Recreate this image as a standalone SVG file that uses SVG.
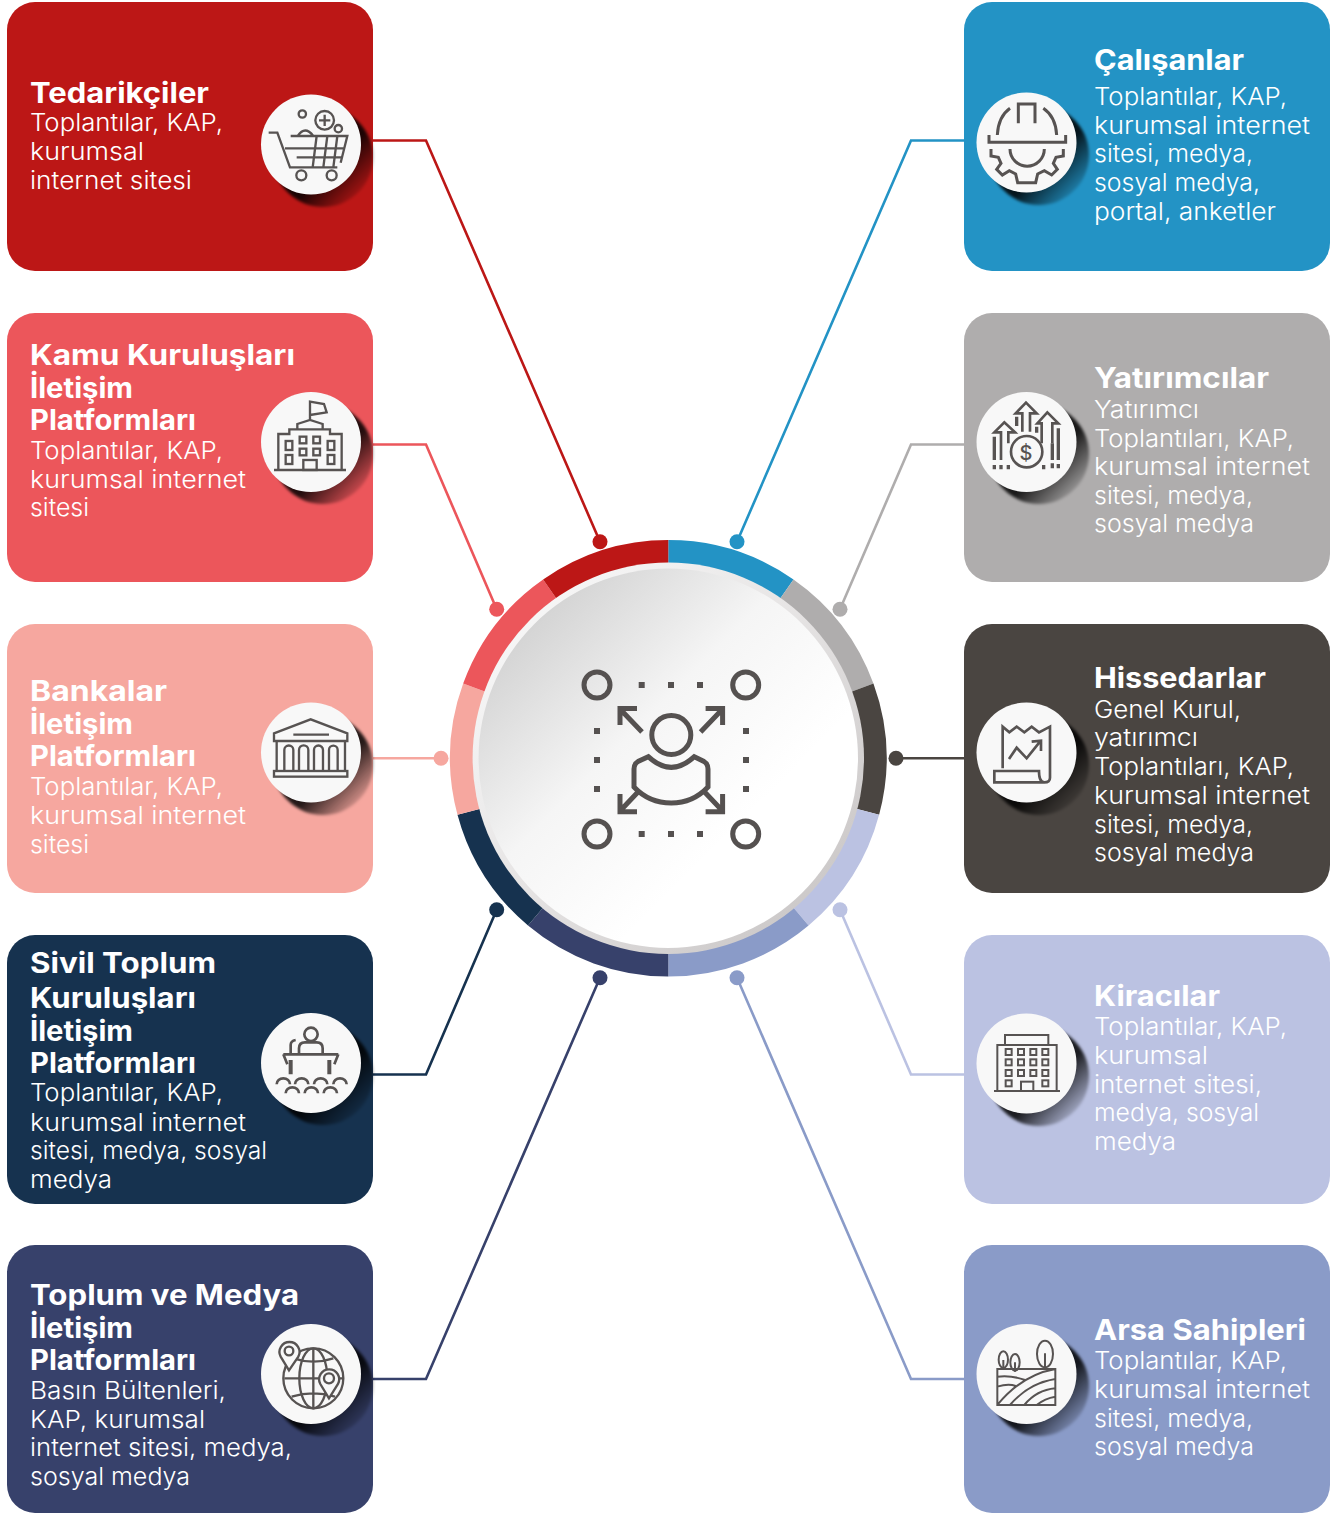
<svg xmlns="http://www.w3.org/2000/svg" width="1341" height="1513" viewBox="0 0 1341 1513">
<style>
text{font-family:"Inter","Noto Sans","Liberation Sans",sans-serif;fill:#fff}
.h{font-size:28px;font-weight:700}
.b{font-size:24px;font-weight:300}
.i{fill:none;stroke:#575352;stroke-width:7;stroke-linejoin:miter}
.i .w{fill:#f8f8f8}
.c{fill:none;stroke-width:2.6}
.r{fill:none;stroke-width:28.6}
.ci{fill:none;stroke:#555150;stroke-width:5}
.sq{fill:#555150}
.disc{fill:#f8f8f8}
.sh{fill:url(#shg);filter:url(#bl)}
</style>
<defs>
<linearGradient id="shg" x1="0.2" y1="0.2" x2="0.9" y2="0.9"><stop offset="0.55" stop-color="#000" stop-opacity="0.85"/><stop offset="1" stop-color="#000" stop-opacity="0.05"/></linearGradient>
<filter id="bl" x="-20%" y="-20%" width="140%" height="140%"><feGaussianBlur stdDeviation="1.5"/></filter>
<linearGradient id="rim" x1="0.1" y1="0.1" x2="0.85" y2="0.85"><stop offset="0" stop-color="#f8f8f8"/><stop offset="0.5" stop-color="#e6e4e4"/><stop offset="1" stop-color="#cdcaca"/></linearGradient>
<linearGradient id="face" x1="0.1" y1="0.1" x2="0.68" y2="0.68"><stop offset="0" stop-color="#cfcfcf"/><stop offset="0.55" stop-color="#f5f5f5"/><stop offset="1" stop-color="#fff"/></linearGradient>
</defs>

<g id="connectors">
<g class="c"><path stroke="#bc1716" d="M373 140.500H426L600 541.700"/><path stroke="#ec565b" d="M373 444.500H426L496.700 609.300"/><path stroke="#f6a79f" d="M373 758.300H441"/><path stroke="#16324f" d="M373 1074.500H426L496.700 909.700"/><path stroke="#37416b" d="M373 1379H426L600 977.700"/><path stroke="#2393c5" d="M964 140.500H911L737 541.700"/><path stroke="#afadad" d="M964 444.500H911L840 609.300"/><path stroke="#4a4541" d="M964 758.300H896"/><path stroke="#bbc2e2" d="M964 1074.500H911L840 909.700"/><path stroke="#8a9bc8" d="M964 1379H911L737 977.700"/></g>
<circle cx="600" cy="541.700" r="7.500" fill="#bc1716"/><circle cx="496.700" cy="609.300" r="7.500" fill="#ec565b"/><circle cx="441" cy="758.300" r="7.500" fill="#f6a79f"/><circle cx="496.700" cy="909.700" r="7.500" fill="#16324f"/><circle cx="600" cy="977.700" r="7.500" fill="#37416b"/><circle cx="737" cy="541.700" r="7.500" fill="#2393c5"/><circle cx="840" cy="609.300" r="7.500" fill="#afadad"/><circle cx="896" cy="758.300" r="7.500" fill="#4a4541"/><circle cx="840" cy="909.700" r="7.500" fill="#bbc2e2"/><circle cx="737" cy="977.700" r="7.500" fill="#8a9bc8"/>
</g>

<g id="hub">
<g class="r">
<path stroke="#2393c5" d="M668.300 554.300A204 204 0 0 1 785.300 591.200"/>
<path stroke="#afadad" d="M785.300 591.200A204 204 0 0 1 860 688.500"/>
<path stroke="#4a4541" d="M860 688.500A204 204 0 0 1 865.300 811.100"/>
<path stroke="#bbc2e2" d="M865.300 811.100A204 204 0 0 1 799.400 914.600"/>
<path stroke="#8a9bc8" d="M799.400 914.600A204 204 0 0 1 668.300 962.300"/>
<path stroke="#37416b" d="M668.300 962.300A204 204 0 0 1 537.200 914.600"/>
<path stroke="#16324f" d="M537.200 914.600A204 204 0 0 1 471.300 811.100"/>
<path stroke="#f6a79f" d="M471.300 811.100A204 204 0 0 1 476.600 688.500"/>
<path stroke="#ec565b" d="M476.600 688.500A204 204 0 0 1 551.300 591.200"/>
<path stroke="#bc1716" d="M551.300 591.200A204 204 0 0 1 668.300 554.300"/>
</g>
<circle cx="668.300" cy="758.300" r="195.700" fill="url(#rim)"/>
<circle cx="668.300" cy="758.300" r="189.700" fill="url(#face)"/>
<g class="ci">
<circle cx="597" cy="685" r="13"/><circle cx="745.700" cy="685" r="13"/><circle cx="597" cy="834" r="13"/><circle cx="745.700" cy="834" r="13"/>
<circle cx="671.300" cy="735" r="19.500"/>
<path d="M648.300 756.700Q671.300 778 694.300 756.700L704 761.500Q708 764 708 769V787Q693 803 671.300 803Q649 803 634 787V769Q634 764 638 761.500Z"/>
<path d="M642 732L620 709M637 708.500H620V725M700.600 732L722.600 709M705.600 708.500H722.600V725M638 792L620 811M620 794V811.700H637M704.600 792L722.600 811M722.600 794V811.700H705.600"/>
</g>
<g class="sq">
<rect x="638.700" y="682" width="6" height="6"/><rect x="668" y="682" width="6" height="6"/><rect x="697" y="682" width="6" height="6"/>
<rect x="638.700" y="831" width="6" height="6"/><rect x="668" y="831" width="6" height="6"/><rect x="697" y="831" width="6" height="6"/>
<rect x="594" y="728" width="6" height="6"/><rect x="594" y="757" width="6" height="6"/><rect x="594" y="786" width="6" height="6"/>
<rect x="743" y="728" width="6" height="6"/><rect x="743" y="757" width="6" height="6"/><rect x="743" y="786" width="6" height="6"/>
</g>
</g>

<g id="tedarikciler">
<rect x="7" y="2" width="366" height="269" rx="28" fill="#bc1716"/>
<circle class="sh" cx="323" cy="157" r="50"/><circle class="disc" cx="311" cy="144.500" r="50"/>
<g class="i" transform="translate(250,80) scale(.3333)">
<circle cx="157" cy="102" r="11"/><circle cx="224" cy="121" r="28"/><path d="M224 104V138M207 121H241"/><circle cx="265" cy="146" r="11"/><circle cx="154" cy="286" r="15"/><circle cx="245" cy="286" r="15"/>
<path d="M56 158H82L120 262H262M122 168H292L272 248M143 168Q165 135 190 168M105 205H285M140 232H277M200 168L188 262M232 168L220 262M262 168L250 262"/>
</g>
<text class="h" x="30" y="102.500" textLength="179" lengthAdjust="spacingAndGlyphs">Tedarikçiler</text>
<text class="b" x="30" y="131" textLength="193" lengthAdjust="spacingAndGlyphs">Toplantılar, KAP,</text>
<text class="b" x="30" y="160" textLength="114" lengthAdjust="spacingAndGlyphs">kurumsal</text>
<text class="b" x="30" y="189" textLength="162" lengthAdjust="spacingAndGlyphs">internet sitesi</text>
</g>

<g id="kamu">
<rect x="7" y="313" width="366" height="269" rx="28" fill="#ec565b"/>
<circle class="sh" cx="323" cy="454" r="50"/><circle class="disc" cx="311" cy="442" r="50"/>
<g class="i" transform="translate(250,380) scale(.3333)">
<path d="M180 120V65L222 72L230 97L180 105M142 148V132L180 120L218 132V148M85 270V162H118V148H240V162H275V270M72 270H288"/>
<rect x="107" y="183" width="20" height="27"/><rect x="107" y="225" width="20" height="27"/><rect x="233" y="183" width="20" height="27"/><rect x="233" y="225" width="20" height="27"/><rect x="149" y="170" width="20" height="20"/><rect x="190" y="170" width="20" height="20"/><rect x="149" y="206" width="20" height="20"/><rect x="190" y="206" width="20" height="20"/><rect x="160" y="240" width="40" height="30"/>
</g>
<text class="h" x="30" y="364.500" textLength="265" lengthAdjust="spacingAndGlyphs">Kamu Kuruluşları</text>
<text class="h" x="30" y="397.500" textLength="103" lengthAdjust="spacingAndGlyphs">İletişim</text>
<text class="h" x="30" y="429.500" textLength="166" lengthAdjust="spacingAndGlyphs">Platformları</text>
<text class="b" x="30" y="458.500" textLength="193" lengthAdjust="spacingAndGlyphs">Toplantılar, KAP,</text>
<text class="b" x="30" y="487.500" textLength="216" lengthAdjust="spacingAndGlyphs">kurumsal internet</text>
<text class="b" x="30" y="515.500" textLength="59" lengthAdjust="spacingAndGlyphs">sitesi</text>
</g>

<g id="bankalar">
<rect x="7" y="624" width="366" height="269" rx="28" fill="#f6a79f"/>
<circle class="sh" cx="323" cy="765" r="50"/><circle class="disc" cx="311" cy="752.500" r="50"/>
<g class="i" transform="translate(250,695) scale(.3333)">
<path d="M72 115L182 73L292 115V138H72ZM130 119H237M80 138V228M285 138V228M103 228V165A13.500 13.500 0 0 1 130 165V228M147 228V165A14 14 0 0 1 175 165V228M192 228V165A13.500 13.500 0 0 1 219 165V228M237 228V165A13 13 0 0 1 263 165V228"/>
<rect x="72" y="228" width="220" height="17"/>
</g>
<text class="h" x="30" y="700.500" textLength="137" lengthAdjust="spacingAndGlyphs">Bankalar</text>
<text class="h" x="30" y="733.500" textLength="103" lengthAdjust="spacingAndGlyphs">İletişim</text>
<text class="h" x="30" y="765.500" textLength="166" lengthAdjust="spacingAndGlyphs">Platformları</text>
<text class="b" x="30" y="794.500" textLength="193" lengthAdjust="spacingAndGlyphs">Toplantılar, KAP,</text>
<text class="b" x="30" y="823.500" textLength="216" lengthAdjust="spacingAndGlyphs">kurumsal internet</text>
<text class="b" x="30" y="852.500" textLength="59" lengthAdjust="spacingAndGlyphs">sitesi</text>
</g>

<g id="sivil-toplum">
<rect x="7" y="935" width="366" height="269" rx="28" fill="#16324f"/>
<circle class="sh" cx="323" cy="1075" r="50"/><circle class="disc" cx="311" cy="1063" r="50"/>
<g class="i" transform="translate(250,1005) scale(.3333)" style="stroke-width:8">
<circle cx="183" cy="88" r="20"/><path d="M147 145V130Q147 112 165 112H200Q218 112 218 130V145M100 148H265M100 148L112 178M265 148L253 178M122 145V120Q122 108 137 105"/>
<path stroke-width="12" d="M122 165V208M238 165V208" style="stroke-width:12"/>
<path d="M80 238A20 18 0 0 1 120 238M135 238A20 18 0 0 1 175 238M192 238A20 18 0 0 1 232 238M250 238A20 18 0 0 1 290 238M107 265A20 18 0 0 1 147 265M164 265A20 18 0 0 1 204 265M221 265A20 18 0 0 1 261 265"/>
</g>
<text class="h" x="30" y="972.500" textLength="186" lengthAdjust="spacingAndGlyphs">Sivil Toplum</text>
<text class="h" x="30" y="1007.500" textLength="166" lengthAdjust="spacingAndGlyphs">Kuruluşları</text>
<text class="h" x="30" y="1040.500" textLength="103" lengthAdjust="spacingAndGlyphs">İletişim</text>
<text class="h" x="30" y="1072.500" textLength="166" lengthAdjust="spacingAndGlyphs">Platformları</text>
<text class="b" x="30" y="1100.500" textLength="193" lengthAdjust="spacingAndGlyphs">Toplantılar, KAP,</text>
<text class="b" x="30" y="1130.500" textLength="216" lengthAdjust="spacingAndGlyphs">kurumsal internet</text>
<text class="b" x="30" y="1158.500" textLength="237" lengthAdjust="spacingAndGlyphs">sitesi, medya, sosyal</text>
<text class="b" x="30" y="1187.500" textLength="82" lengthAdjust="spacingAndGlyphs">medya</text>
</g>

<g id="toplum-medya">
<rect x="7" y="1245" width="366" height="268" rx="28" fill="#37416b"/>
<circle class="sh" cx="323" cy="1386" r="50"/><circle class="disc" cx="311" cy="1374" r="50"/>
<g class="i" transform="translate(250,1315) scale(.3333)">
<circle cx="190" cy="190" r="90"/><ellipse cx="190" cy="190" rx="42" ry="90"/><path d="M190 100V280M103 190H280M130 130Q190 150 250 130M125 245Q190 225 255 245"/>
<path class="w" d="M117 166L92 125A30 30 0 1 1 145 125Z"/><circle cx="117" cy="108" r="13"/>
<path class="w" d="M237 250L211 207A30 30 0 1 1 264 207Z"/><circle cx="237" cy="190" r="15"/>
</g>
<text class="h" x="30" y="1304.500" textLength="269" lengthAdjust="spacingAndGlyphs">Toplum ve Medya</text>
<text class="h" x="30" y="1337.500" textLength="103" lengthAdjust="spacingAndGlyphs">İletişim</text>
<text class="h" x="30" y="1369.500" textLength="166" lengthAdjust="spacingAndGlyphs">Platformları</text>
<text class="b" x="30" y="1398.500" textLength="196" lengthAdjust="spacingAndGlyphs">Basın Bültenleri,</text>
<text class="b" x="30" y="1427.500" textLength="175" lengthAdjust="spacingAndGlyphs">KAP, kurumsal</text>
<text class="b" x="30" y="1455.500" textLength="262" lengthAdjust="spacingAndGlyphs">internet sitesi, medya,</text>
<text class="b" x="30" y="1484.500" textLength="160" lengthAdjust="spacingAndGlyphs">sosyal medya</text>
</g>

<g id="calisanlar">
<rect x="964" y="2" width="366" height="269" rx="28" fill="#2393c5"/>
<circle class="sh" cx="1039" cy="155" r="50"/><circle class="disc" cx="1026.500" cy="142.500" r="50"/>
<g class="i" transform="translate(965,80) scale(.3333)" style="stroke-width:9">
<path d="M72 165V187H302V165M97 165Q100 110 135 85M160 130V72H210V130M275 165Q272 110 235 85"/>
<path d="M135 207A51 51 0 0 0 238 207M78 207V228L100 232L108 250L95 268L112 285L133 272L152 282L158 308H212L218 282L238 272L260 285L277 268L265 250L273 232L295 228V207"/>
</g>
<text class="h" x="1094" y="69.500" textLength="150" lengthAdjust="spacingAndGlyphs">Çalışanlar</text>
<text class="b" x="1094" y="104.500" textLength="193" lengthAdjust="spacingAndGlyphs">Toplantılar, KAP,</text>
<text class="b" x="1094" y="133.500" textLength="216" lengthAdjust="spacingAndGlyphs">kurumsal internet</text>
<text class="b" x="1094" y="162" textLength="159" lengthAdjust="spacingAndGlyphs">sitesi, medya,</text>
<text class="b" x="1094" y="191" textLength="166" lengthAdjust="spacingAndGlyphs">sosyal medya,</text>
<text class="b" x="1094" y="220" textLength="182" lengthAdjust="spacingAndGlyphs">portal, anketler</text>
</g>

<g id="yatirimcilar">
<rect x="964" y="313" width="366" height="269" rx="28" fill="#afadad"/>
<circle class="sh" cx="1039" cy="454" r="50"/><circle class="disc" cx="1026.500" cy="442" r="50"/>
<g class="i" transform="translate(965,380) scale(.3333)" style="stroke-width:8">
<circle cx="185" cy="215" r="47"/>
<path d="M172 155V100H152L183 68L215 100H195V155M108 240V157H88L118 127L150 157H130V190M230 190V130H217L247 97L280 130H262V190"/>
<path style="stroke-width:10" d="M88 170V240M88 255V268M108 255V268M130 255V268M155 110V138M215 140V158M280 145V240M280 252V265M262 190V240M262 250V265M236 255V268"/>
</g>
<text x="1026" y="460" text-anchor="middle" style="font-size:20px;font-weight:500;fill:#575352">$</text>
<text class="h" x="1094" y="387.500" textLength="175" lengthAdjust="spacingAndGlyphs">Yatırımcılar</text>
<text class="b" x="1094" y="417.500" textLength="105" lengthAdjust="spacingAndGlyphs">Yatırımcı</text>
<text class="b" x="1094" y="446.500" textLength="200" lengthAdjust="spacingAndGlyphs">Toplantıları, KAP,</text>
<text class="b" x="1094" y="475" textLength="216" lengthAdjust="spacingAndGlyphs">kurumsal internet</text>
<text class="b" x="1094" y="504" textLength="159" lengthAdjust="spacingAndGlyphs">sitesi, medya,</text>
<text class="b" x="1094" y="532" textLength="160" lengthAdjust="spacingAndGlyphs">sosyal medya</text>
</g>

<g id="hissedarlar">
<rect x="964" y="624" width="366" height="269" rx="28" fill="#4a4541"/>
<circle class="sh" cx="1039" cy="765" r="50"/><circle class="disc" cx="1026.500" cy="752.500" r="50"/>
<g class="i" transform="translate(965,695) scale(.3333)" style="stroke-width:8">
<path d="M113 220V95L133 112L155 95L178 112L200 95L222 112L255 95V248Q255 262 238 262Q222 262 222 228H88V262H238"/>
<path d="M132 192L155 158L185 190L225 140M200 140L228 137V168"/>
</g>
<text class="h" x="1094" y="687.500" textLength="172" lengthAdjust="spacingAndGlyphs">Hissedarlar</text>
<text class="b" x="1094" y="717.500" textLength="147" lengthAdjust="spacingAndGlyphs">Genel Kurul,</text>
<text class="b" x="1094" y="745.500" textLength="104" lengthAdjust="spacingAndGlyphs">yatırımcı</text>
<text class="b" x="1094" y="774.500" textLength="200" lengthAdjust="spacingAndGlyphs">Toplantıları, KAP,</text>
<text class="b" x="1094" y="803.500" textLength="216" lengthAdjust="spacingAndGlyphs">kurumsal internet</text>
<text class="b" x="1094" y="832.500" textLength="159" lengthAdjust="spacingAndGlyphs">sitesi, medya,</text>
<text class="b" x="1094" y="861" textLength="160" lengthAdjust="spacingAndGlyphs">sosyal medya</text>
</g>

<g id="kiracilar">
<rect x="964" y="935" width="366" height="269" rx="28" fill="#bbc2e2"/>
<circle class="sh" cx="1039" cy="1076" r="50"/><circle class="disc" cx="1026.500" cy="1063.500" r="50"/>
<g class="i" transform="translate(965,1005) scale(.3333)" style="stroke-width:6">
<path d="M120 120V90H250V120M97 258V120H275V258M87 258H285"/>
<rect x="122" y="132" width="18" height="18"/><rect x="159" y="132" width="18" height="18"/><rect x="196" y="132" width="18" height="18"/><rect x="232" y="132" width="18" height="18"/>
<rect x="122" y="163" width="18" height="18"/><rect x="159" y="163" width="18" height="18"/><rect x="196" y="163" width="18" height="18"/><rect x="232" y="163" width="18" height="18"/>
<rect x="122" y="195" width="18" height="18"/><rect x="159" y="195" width="18" height="18"/><rect x="196" y="195" width="18" height="18"/><rect x="232" y="195" width="18" height="18"/>
<rect x="122" y="226" width="18" height="18"/><rect x="232" y="226" width="18" height="18"/><rect x="168" y="230" width="37" height="28"/>
</g>
<text class="h" x="1094" y="1005.500" textLength="126" lengthAdjust="spacingAndGlyphs">Kiracılar</text>
<text class="b" x="1094" y="1035" textLength="193" lengthAdjust="spacingAndGlyphs">Toplantılar, KAP,</text>
<text class="b" x="1094" y="1064" textLength="114" lengthAdjust="spacingAndGlyphs">kurumsal</text>
<text class="b" x="1094" y="1093" textLength="168" lengthAdjust="spacingAndGlyphs">internet sitesi,</text>
<text class="b" x="1094" y="1121" textLength="165" lengthAdjust="spacingAndGlyphs">medya, sosyal</text>
<text class="b" x="1094" y="1150" textLength="82" lengthAdjust="spacingAndGlyphs">medya</text>
</g>

<g id="arsa-sahipleri">
<rect x="964" y="1245" width="366" height="268" rx="28" fill="#8a9bc8"/>
<circle class="sh" cx="1039" cy="1386" r="50"/><circle class="disc" cx="1026.500" cy="1374" r="50"/>
<g class="i" transform="translate(965,1315) scale(.3333)" style="stroke-width:6">
<path d="M97 162H271V270H97ZM97 185Q140 180 180 195M97 215Q130 205 152 213M97 270Q170 180 271 162M135 270Q190 205 271 192M178 270Q215 225 271 220M215 270Q240 250 271 245M240 115V162M115 135V162M150 142V170"/>
<ellipse cx="240" cy="117" rx="24" ry="40"/><ellipse cx="115" cy="134" rx="14" ry="25"/><ellipse cx="150" cy="142" rx="14" ry="25"/>
</g>
<text class="h" x="1094" y="1339.500" textLength="212" lengthAdjust="spacingAndGlyphs">Arsa Sahipleri</text>
<text class="b" x="1094" y="1368.500" textLength="193" lengthAdjust="spacingAndGlyphs">Toplantılar, KAP,</text>
<text class="b" x="1094" y="1397.500" textLength="216" lengthAdjust="spacingAndGlyphs">kurumsal internet</text>
<text class="b" x="1094" y="1426.500" textLength="159" lengthAdjust="spacingAndGlyphs">sitesi, medya,</text>
<text class="b" x="1094" y="1455" textLength="160" lengthAdjust="spacingAndGlyphs">sosyal medya</text>
</g>
</svg>
